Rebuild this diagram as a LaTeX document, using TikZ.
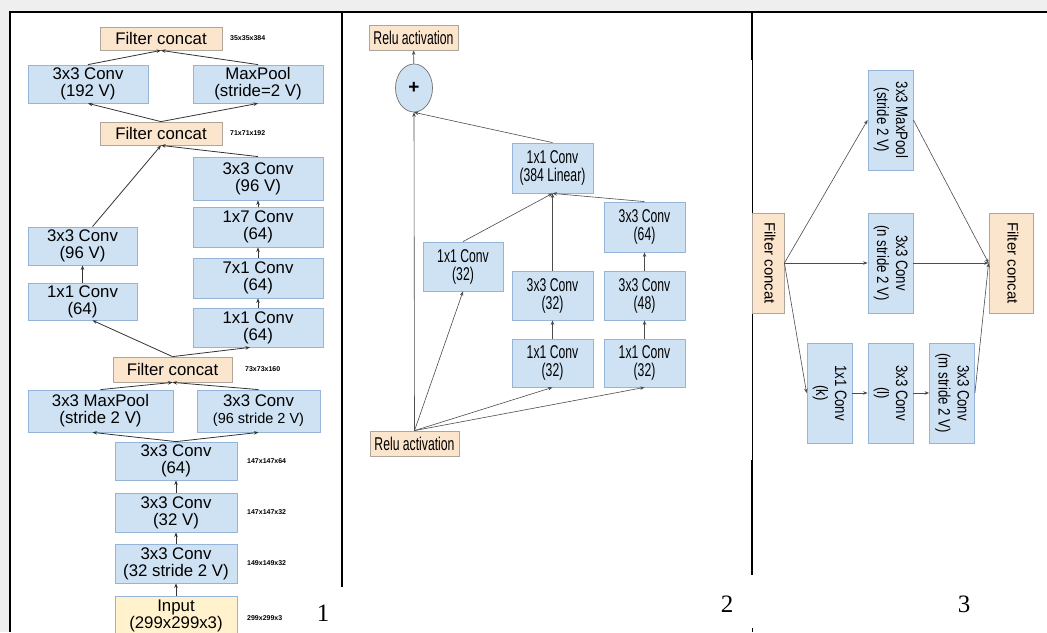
\documentclass[tikz,border=0pt]{standalone}
\usepackage{fontspec}
\setmainfont{Liberation Sans}
\newfontfamily\narrowsans[FakeStretch=0.66]{Liberation Sans}
\newfontfamily\midsans[FakeStretch=0.8]{Liberation Sans}
\newfontfamily\digitfont{Liberation Serif}
\usepackage{graphicx}
\usetikzlibrary{arrows.meta,shapes.geometric}
\definecolor{convblue}{RGB}{207,226,243}
\definecolor{convedge}{RGB}{150,180,215}
\definecolor{catfill}{RGB}{252,229,205}
\definecolor{catedge}{RGB}{175,165,155}
\definecolor{inputfill}{RGB}{255,242,204}
\definecolor{bggray}{RGB}{239,239,239}
\newcommand{\vlabel}[1]{\rotatebox{-90}{\begin{tabular}{@{}c@{}}#1\end{tabular}}}

\begin{document}
\begin{tikzpicture}[x=1pt,y=-1pt,
    every node/.style={inner sep=0pt, align=center},
    conv/.style={draw=convedge, fill=convblue, line width=0.8pt},
    concat/.style={draw=catedge, fill=catfill, line width=0.8pt},
    p1/.style={font=\fontsize{16.8}{17}\selectfont},
    p2/.style={font=\narrowsans\fontsize{18.5}{18}\selectfont},
    p3/.style={font=\midsans\fontsize{16.5}{19}\selectfont},
    dims/.style={font=\fontsize{7}{7}\selectfont\bfseries, anchor=west},
    link/.style={-{Stealth[length=4.5pt,width=3.5pt]}, line width=0.8pt, draw=black!80},
    thin link/.style={link, line width=0.6pt, draw=black!70},
    frame/.style={line width=2.6pt}]

    \useasboundingbox (0,0) rectangle (1047,632);
    \fill[bggray] (0,0) rectangle (1047,632);
    \fill[white] (10,12) rectangle (1047,632);

    % frame and panel dividers
    \draw[frame] (8.7,12) -- (1047,12);
    \draw[frame] (10,12) -- (10,632);
    \draw[frame] (342,12) -- (342,587);
    \draw[frame] (752,12) -- (752,60);
    \draw[line width=1pt] (752,60) -- (752,460);
    \draw[frame] (752,460) -- (752,575);
    \draw[line width=1pt] (752,628) -- (752,632);

    % panel 1
    \node[concat, p1, minimum width=122, minimum height=23] (fcA) at (161,38.5) {Filter concat};
    \node[conv, p1, minimum width=120, minimum height=38] (c192) at (88,84) {3x3 Conv\\(192 V)};
    \node[conv, p1, minimum width=130, minimum height=38] (mpA) at (258,84) {MaxPool\\(stride=2 V)};
    \node[concat, p1, minimum width=122, minimum height=23] (fcB) at (161,133.5) {Filter concat};
    \node[conv, p1, minimum width=130, minimum height=43] (c96R) at (258,178.5) {3x3 Conv\\(96 V)};
    \node[conv, p1, minimum width=130, minimum height=40] (c17) at (258,227) {1x7 Conv\\(64)};
    \node[conv, p1, minimum width=130, minimum height=40] (c71) at (258,278) {7x1 Conv\\(64)};
    \node[conv, p1, minimum width=130, minimum height=39] (c11R) at (258,327.5) {1x1 Conv\\(64)};
    \node[conv, p1, minimum width=109, minimum height=38] (c96L) at (82.5,246) {3x3 Conv\\(96 V)};
    \node[conv, p1, minimum width=109, minimum height=37] (c11L) at (82.5,301.5) {1x1 Conv\\(64)};
    \node[concat, p1, minimum width=119, minimum height=25] (fcC) at (172.5,369.5) {Filter concat};
    \node[conv, p1, minimum width=145, minimum height=42] (mpB) at (100.5,411) {3x3 MaxPool\\(stride 2 V)};
    \node[conv, p1, minimum width=123, minimum height=42] (c96s) at (258.5,411) {3x3 Conv\\{\fontsize{14.5}{17}\selectfont(96 stride 2 V)}};
    \node[conv, p1, minimum width=122, minimum height=38] (c64) at (176,461) {3x3 Conv\\(64)};
    \node[conv, p1, minimum width=122, minimum height=39] (c32) at (176,512.5) {3x3 Conv\\(32 V)};
    \node[conv, p1, minimum width=122, minimum height=39] (c32s) at (176,563.5) {3x3 Conv\\(32 stride 2 V)};
    \node[draw=convedge, fill=inputfill, line width=0.8pt, p1, minimum width=122, minimum height=40] (inp) at (176,616) {Input\\(299x299x3)};

    \node[dims] (dA) at (230,38.5) {35x35x384};
    \node[dims] (dB) at (230,133.5) {71x71x192};
    \node[dims] (dC) at (245,369.5) {73x73x160};
    \node[dims] (dD) at (247,461) {147x147x64};
    \node[dims] (dE) at (247,512.5) {147x147x32};
    \node[dims] (dF) at (247,563.5) {149x149x32};
    \node[dims] (dG) at (247,618) {299x299x3};

    \draw[link] (c192.north) -- (fcA.south);
    \draw[link] (mpA.north) -- (fcA.south);
    \draw[link] (fcB.north) -- (c192.south);
    \draw[link] (fcB.north) -- (mpA.south);
    \draw[link] ([xshift=10]c96L.north) -- (fcB.south);
    \draw[link] (c96R.north) -- (fcB.south);
    \draw[link] (c11L) -- (c96L);
    \draw[link] (c17) -- (c96R);
    \draw[link] (c71) -- (c17);
    \draw[link] (c11R) -- (c71);
    \draw[link] (fcC.north) -- ([xshift=10]c11L.south);
    \draw[link] (fcC.north) -- ([xshift=-8]c11R.south);
    \draw[link] (mpB.north) -- (fcC.south);
    \draw[link] (c96s.north) -- (fcC.south);
    \draw[link] (c64.north) -- ([xshift=-8]mpB.south);
    \draw[link] (c64.north) -- (c96s.south);
    \draw[link] (c32) -- (c64);
    \draw[link] (c32s) -- (c32);
    \draw[link] (inp) -- (c32s);

    \node[font=\digitfont\fontsize{25}{25}\selectfont] (n1) at (323,613) {1};

    % panel 2
    \node[concat, p2, minimum width=89, minimum height=25] (reluT) at (413.5,37.5) {Relu activation};
    \node[ellipse, draw=black!55, fill=convblue, line width=0.7pt, minimum width=37, minimum height=48,
        font=\bfseries\fontsize{19}{19}\selectfont] (plus) at (414,88) {+};
    \node[conv, p2, minimum width=81, minimum height=50] (c384) at (552.5,168) {1x1 Conv\\(384 Linear)};
    \node[conv, p2, minimum width=81, minimum height=50] (c64b) at (644.5,227) {3x3 Conv\\(64)};
    \node[conv, p2, minimum width=80, minimum height=49] (c32a) at (463,266.5) {1x1 Conv\\(32)};
    \node[conv, p2, minimum width=81, minimum height=49] (c32b) at (552.5,295.5) {3x3 Conv\\(32)};
    \node[conv, p2, minimum width=81, minimum height=49] (c48) at (644.5,295.5) {3x3 Conv\\(48)};
    \node[conv, p2, minimum width=81, minimum height=48] (c32c) at (552.5,363) {1x1 Conv\\(32)};
    \node[conv, p2, minimum width=81, minimum height=48] (c32d) at (644.5,363) {1x1 Conv\\(32)};
    \node[concat, p2, minimum width=89, minimum height=25] (reluB) at (414.5,443.5) {Relu activation};

    \draw[thin link] (reluB.north) -- (plus.south);
    \draw[thin link] (reluB.north) -- (c32a.south);
    \draw[thin link] (reluB.north) -- (c32c.south);
    \draw[thin link] (reluB.north) -- (c32d.south);
    \draw[thin link] (c32c) -- (c32b);
    \draw[thin link] (c32d) -- (c48);
    \draw[thin link] (c48) -- (c64b);
    \draw[thin link] (c32a.north) -- (c384.south);
    \draw[thin link] (c32b.north) -- (c384.south);
    \draw[thin link] (c64b.north) -- (c384.south);
    \draw[thin link] (c384.north) -- (plus.south);
    \draw[thin link] (plus) -- (reluT);

    \node[font=\digitfont\fontsize{25}{25}\selectfont] (n2) at (727,604) {2};

    % panel 3
    \node[concat, minimum width=32, minimum height=100, font=\fontsize{15}{17}\selectfont] (fcL) at (768,263) {\vlabel{Filter concat}};
    \node[conv, p3, minimum width=45, minimum height=100] (mp3) at (890.5,120) {\vlabel{3x3 MaxPool\\(stride 2 V)}};
    \node[conv, p3, minimum width=45, minimum height=100] (cn3) at (890.5,263) {\vlabel{3x3 Conv\\(n stride 2 V)}};
    \node[concat, minimum width=44, minimum height=100, font=\fontsize{15}{17}\selectfont] (fcR) at (1011,263) {\vlabel{Filter concat}};
    \node[conv, p3, minimum width=45, minimum height=100] (ck) at (829.5,393) {\vlabel{1x1 Conv\\(k)}};
    \node[conv, p3, minimum width=45, minimum height=100] (cl) at (890.5,393) {\vlabel{3x3 Conv\\(l)}};
    \node[conv, p3, minimum width=45, minimum height=100] (cm) at (952,393) {\vlabel{3x3 Conv\\(m stride 2 V)}};

    \draw[thin link] (fcL.east) -- (mp3.west);
    \draw[thin link] (fcL.east) -- (cn3.west);
    \draw[thin link] (fcL.east) -- (ck.west);
    \draw[thin link] (ck) -- (cl);
    \draw[thin link] (cl) -- (cm);
    \draw[thin link] (mp3.east) -- (fcR.west);
    \draw[thin link] (cn3.east) -- (fcR.west);
    \draw[thin link] (cm.east) -- (fcR.west);

    \node[font=\digitfont\fontsize{25}{25}\selectfont] (n3) at (964,604) {3};
\end{tikzpicture}
\end{document}
